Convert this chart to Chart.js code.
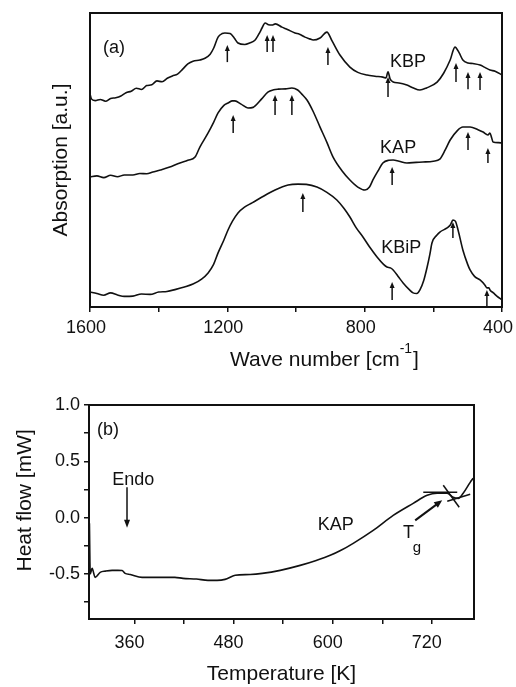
<!DOCTYPE html>
<html>
<head>
  <title>IR spectra and DSC of KBP / KAP / KBiP</title>
  <script src="https://cdn.jsdelivr.net/npm/chart.js"></script>
  <style>
    body {
      margin: 0;
      background: white;
      width: 516px;
      height: 687px;
      overflow: hidden;
      position: relative;
    }
    canvas {
      position: absolute;
      left: 0;
    }
    #irChart { top: 0; }
    #dscChart { top: 375px; }
  </style>
</head>
<body>
  <canvas id="irChart" width="516" height="375"></canvas>
  <canvas id="dscChart" width="516" height="312"></canvas>

  <script>
    const FONT = 'Arial, "Liberation Sans", Helvetica, sans-serif';
    const INK = '#111';

    // ---- (a) IR absorption spectra ----
    const wnTicks = [1600, 1400, 1200, 1000, 800, 600, 400];
    const wnLabels = [1600, 1200, 800, 400];

    const wnKBP = [1600, 1596, 1585, 1570, 1555, 1540, 1525, 1510, 1495, 1480, 1465, 1450, 1435, 1420, 1405, 1390, 1375, 1360, 1345, 1330, 1315, 1300, 1280, 1265, 1250, 1240, 1227, 1215, 1207, 1192, 1180, 1169, 1149, 1135, 1119, 1105, 1099, 1090, 1080, 1070, 1060, 1041, 1025, 1003, 990, 974, 960, 950, 930, 910, 895, 872, 843, 820, 793, 770, 747, 738, 732, 726, 717, 700, 677, 660, 639, 620, 589, 570, 551, 537, 525, 514, 499, 485, 464, 450, 435, 420, 400];
    const absKBP = [72.5, 70.8, 70.2, 70.6, 70.0, 70.9, 71.2, 71.8, 72.9, 73.4, 74.4, 74.0, 75.3, 75.6, 76.9, 76.6, 77.8, 78.6, 79.2, 80.9, 82.7, 83.6, 84.0, 84.6, 86.0, 88.0, 91.8, 93.0, 93.2, 93.0, 91.5, 89.8, 89.3, 89.8, 90.8, 93.5, 94.9, 96.6, 96.0, 95.9, 96.3, 95.2, 94.4, 93.2, 92.8, 91.8, 91.2, 90.8, 91.5, 93.5, 90.5, 85.7, 81.6, 79.8, 78.9, 78.5, 78.2, 77.9, 80.0, 77.6, 76.5, 76.2, 75.5, 74.6, 73.8, 74.5, 76.5, 79.5, 84.0, 88.4, 86.5, 84.0, 83.0, 82.8, 82.3, 81.5, 80.6, 80.2, 78.9];

    const wnKAP = [1600, 1580, 1560, 1540, 1520, 1500, 1475, 1455, 1435, 1417, 1395, 1370, 1338, 1315, 1294, 1280, 1256, 1240, 1227, 1210, 1198, 1185, 1178, 1160, 1140, 1125, 1119, 1100, 1082, 1065, 1052, 1030, 1012, 995, 983, 968, 950, 930, 910, 892, 865, 843, 820, 799, 786, 776, 760, 747, 730, 717, 700, 677, 650, 630, 600, 581, 565, 551, 530, 514, 493, 470, 455, 441, 435, 430, 426, 410, 400];
    const absKAP = [44.2, 44.6, 44.0, 44.8, 44.3, 44.9, 44.9, 45.4, 45.3, 45.9, 46.6, 47.5, 49.0, 49.9, 51.0, 54.4, 59.2, 62.8, 66.0, 68.6, 69.4, 70.1, 70.1, 69.0, 67.7, 67.9, 68.4, 70.8, 73.1, 73.9, 74.1, 74.2, 74.5, 73.8, 72.4, 70.4, 66.5, 61.2, 56.0, 51.0, 46.2, 43.2, 40.8, 39.8, 40.8, 43.2, 46.5, 49.0, 49.9, 50.0, 49.6, 49.0, 49.2, 49.3, 49.6, 50.3, 53.5, 56.8, 60.0, 61.2, 61.2, 60.3, 59.5, 58.5, 59.2, 57.5, 56.1, 55.9, 55.8];

    const wnKBiP = [1600, 1580, 1560, 1540, 1520, 1500, 1475, 1450, 1425, 1400, 1376, 1350, 1325, 1300, 1275, 1256, 1240, 1227, 1210, 1198, 1185, 1169, 1150, 1128, 1099, 1061, 1023, 994, 970, 939, 910, 881, 860, 843, 825, 805, 785, 764, 745, 735, 725, 717, 700, 688, 670, 659, 648, 639, 628, 618, 610, 604, 590, 581, 560, 550, 543, 536, 528, 514, 500, 493, 480, 464, 450, 444, 438, 435, 425, 415, 400];
    const absKBiP = [5.1, 4.6, 4.0, 4.8, 4.1, 3.6, 3.7, 4.4, 4.3, 5.1, 5.3, 6.0, 6.8, 7.8, 9.5, 11.6, 14.5, 18.4, 22.8, 26.2, 29.2, 32.0, 34.0, 35.4, 37.4, 39.8, 41.5, 41.8, 41.7, 40.8, 39.0, 36.4, 33.5, 30.6, 27.0, 23.8, 20.3, 17.0, 14.5, 13.6, 13.3, 12.6, 10.0, 8.2, 5.9, 4.8, 4.6, 5.8, 9.0, 13.6, 18.0, 21.8, 24.4, 25.5, 26.9, 28.0, 29.6, 29.2, 26.2, 19.4, 14.5, 12.6, 10.4, 9.2, 7.5, 6.5, 6.5, 5.8, 4.8, 3.7, 2.4];

    // band markers (short upward arrows): position, arrow tip, arrow base
    const peakWn = [1200, 1084, 1067, 907, 732, 534, 499, 464, 1183, 1061, 1012, 720, 499, 441, 980, 720, 543, 444];
    const peakTip = [89.1, 92.5, 92.5, 88.4, 78.2, 83.0, 79.9, 79.9, 65.3, 72.1, 72.1, 47.6, 59.5, 54.1, 38.8, 8.5, 28.9, 5.8];
    const peakBase = [83.3, 86.7, 86.7, 82.3, 71.4, 76.5, 74.1, 73.8, 59.2, 65.3, 65.3, 41.5, 53.4, 49.0, 32.3, 2.4, 23.5, 0.3];

    const sampleNames = ['KBP', 'KAP', 'KBiP'];
    const nameWn = [726, 755, 752];
    const nameAbs = [83.3, 54.1, 20.1];

    // ---- (b) DSC trace of KAP ----
    const tempTicks = [360, 420, 480, 540, 600, 660, 720];
    const tempLabels = [360, 480, 600, 720];
    const hfTicks = [-0.75, -0.5, -0.25, 0, 0.25, 0.5, 0.75, 1.0];
    const hfLabels = [-0.5, 0, 0.5, 1.0];

    const tempKAP = [305.5, 306.5, 308.8, 312.4, 318.5, 325, 333, 340, 345, 348.7, 355, 369.3, 390, 409, 418.8, 435, 449, 460, 469.7, 481.9, 500, 514.6, 536.4, 560.6, 580, 597, 610, 624.8, 649, 673.2, 697.4, 714.3, 726.4, 738.5, 745.8, 751.9, 757.9, 766.4, 770];
    const hfKAP = [-0.05, -0.50, -0.45, -0.53, -0.486, -0.475, -0.468, -0.468, -0.47, -0.495, -0.505, -0.53, -0.53, -0.53, -0.539, -0.545, -0.557, -0.557, -0.548, -0.512, -0.505, -0.495, -0.468, -0.424, -0.38, -0.335, -0.29, -0.228, -0.113, 0.02, 0.127, 0.198, 0.216, 0.216, 0.18, 0.171, 0.216, 0.313, 0.35];

    // tangent construction lines used for Tg
    const tangentT = [[709.6, 750.7], [733.8, 753.1], [738.6, 766.4]];
    const tangentHF = [[0.225, 0.225], [0.287, 0.092], [0.145, 0.207]];

    const endoArrow = { t: 351, from: 0.27, to: -0.09 };
    const tgArrow = { t0: 699.8, hf0: -0.024, t1: 732.5, hf1: 0.154 };

    const pairs = (xs, ys) => xs.map((x, i) => ({ x: x, y: ys[i] }));

    function arrow(ctx, x0, y0, x1, y1, head, half) {
      const ang = Math.atan2(y1 - y0, x1 - x0);
      const c = Math.cos(ang), s = Math.sin(ang);
      ctx.beginPath();
      ctx.moveTo(x0, y0);
      ctx.lineTo(x1 - c * head * 0.7, y1 - s * head * 0.7);
      ctx.stroke();
      ctx.beginPath();
      ctx.moveTo(x1, y1);
      ctx.lineTo(x1 - c * head + s * half, y1 - s * head - c * half);
      ctx.lineTo(x1 - c * head - s * half, y1 - s * head + c * half);
      ctx.closePath();
      ctx.fill();
    }

    function curve(label, data) {
      return {
        label: label,
        data: data,
        showLine: true,
        borderColor: INK,
        borderWidth: 1.6,
        pointRadius: 0,
        cubicInterpolationMode: 'monotone',
        fill: false
      };
    }

    const irMarks = {
      id: 'irMarks',
      afterDatasetsDraw(chart) {
        const { ctx, chartArea: a, scales: { x, y } } = chart;
        ctx.save();
        ctx.strokeStyle = INK;
        ctx.fillStyle = INK;
        ctx.lineWidth = 2;
        ctx.strokeRect(a.left, a.top, a.right - a.left, a.bottom - a.top);

        ctx.lineWidth = 1.5;
        peakWn.forEach((w, i) => {
          const px = x.getPixelForValue(w);
          arrow(ctx, px, y.getPixelForValue(peakBase[i]), px, y.getPixelForValue(peakTip[i]), 6, 2.5);
        });

        ctx.font = '18px ' + FONT;
        ctx.textAlign = 'left';
        ctx.textBaseline = 'middle';
        sampleNames.forEach((n, i) => {
          ctx.fillText(n, x.getPixelForValue(nameWn[i]), y.getPixelForValue(nameAbs[i]));
        });
        ctx.fillText('(a)', x.getPixelForValue(1562), y.getPixelForValue(88.1));

        // x title with superscript
        const main = 'Wave number [cm', sup = '-1', close = ']';
        ctx.font = '21px ' + FONT;
        const w1 = ctx.measureText(main).width, w3 = ctx.measureText(close).width;
        ctx.font = '14px ' + FONT;
        const w2 = ctx.measureText(sup).width;
        let tx = (a.left + a.right) / 2 + 28 - (w1 + w2 + w3) / 2;
        const ty = a.bottom + 53;
        ctx.font = '21px ' + FONT;
        ctx.fillText(main, tx, ty);
        ctx.font = '14px ' + FONT;
        ctx.fillText(sup, tx + w1, ty - 11);
        ctx.font = '21px ' + FONT;
        ctx.fillText(close, tx + w1 + w2 + 1, ty);
        ctx.restore();
      }
    };

    const dscMarks = {
      id: 'dscMarks',
      afterDatasetsDraw(chart) {
        const { ctx, chartArea: a, scales: { x, y } } = chart;
        ctx.save();
        ctx.strokeStyle = INK;
        ctx.fillStyle = INK;
        ctx.lineWidth = 2;
        ctx.strokeRect(a.left, a.top, a.right - a.left, a.bottom - a.top);

        ctx.font = '18px ' + FONT;
        ctx.textAlign = 'left';
        ctx.textBaseline = 'middle';
        ctx.fillText('(b)', x.getPixelForValue(314.8), y.getPixelForValue(0.775));
        ctx.fillText('Endo', x.getPixelForValue(333), y.getPixelForValue(0.33));
        ctx.fillText('KAP', x.getPixelForValue(582), y.getPixelForValue(-0.07));
        ctx.fillText('T', x.getPixelForValue(685), y.getPixelForValue(-0.14));
        ctx.font = '15px ' + FONT;
        ctx.fillText('g', x.getPixelForValue(697), y.getPixelForValue(-0.27));

        ctx.lineWidth = 1.5;
        const ex = x.getPixelForValue(endoArrow.t);
        arrow(ctx, ex, y.getPixelForValue(endoArrow.from), ex, y.getPixelForValue(endoArrow.to), 8, 3);
        ctx.lineWidth = 2;
        arrow(ctx, x.getPixelForValue(tgArrow.t0), y.getPixelForValue(tgArrow.hf0),
              x.getPixelForValue(tgArrow.t1), y.getPixelForValue(tgArrow.hf1), 8, 3.5);
        ctx.restore();
      }
    };

    new Chart(document.getElementById('irChart'), {
      type: 'scatter',
      data: {
        datasets: [
          curve('KBP', pairs(wnKBP, absKBP)),
          curve('KAP', pairs(wnKAP, absKAP)),
          curve('KBiP', pairs(wnKBiP, absKBiP))
        ]
      },
      options: {
        responsive: false,
        animation: false,
        layout: { padding: { top: 13, right: 14, left: 0, bottom: 0 } },
        plugins: { legend: { display: false }, tooltip: { enabled: false } },
        scales: {
          x: {
            type: 'linear',
            reverse: true,
            min: 400,
            max: 1600,
            afterBuildTicks: s => { s.ticks = wnTicks.map(v => ({ value: v })); },
            afterFit: s => { s.height = 68; s.paddingLeft = 0; s.paddingRight = 0; },
            ticks: {
              callback: v => wnLabels.includes(v) ? String(v) : '',
              color: INK,
              font: { family: FONT, size: 18 },
              padding: 5,
              maxRotation: 0,
              autoSkip: false,
              labelOffset: -4
            },
            grid: { drawOnChartArea: false, tickLength: 5, color: INK, lineWidth: 1.5 },
            border: { display: false }
          },
          y: {
            min: 0,
            max: 100,
            ticks: { display: false },
            grid: { display: false },
            border: { display: false },
            afterFit: s => { s.width = 90; },
            title: {
              display: true,
              text: 'Absorption [a.u.]',
              color: INK,
              font: { family: FONT, size: 21 },
              padding: { top: 49, bottom: 0 }
            }
          }
        }
      },
      plugins: [irMarks]
    });

    const tangentSets = tangentT.map((ts, i) => ({
      label: 'tangent ' + (i + 1),
      data: pairs(ts, tangentHF[i]),
      showLine: true,
      borderColor: INK,
      borderWidth: 1.5,
      pointRadius: 0
    }));

    new Chart(document.getElementById('dscChart'), {
      type: 'scatter',
      data: {
        datasets: [curve('KAP', pairs(tempKAP, hfKAP))].concat(tangentSets)
      },
      options: {
        responsive: false,
        animation: false,
        layout: { padding: { top: 30, right: 42, left: 0, bottom: 0 } },
        plugins: { legend: { display: false }, tooltip: { enabled: false } },
        scales: {
          x: {
            type: 'linear',
            min: 305,
            max: 771,
            afterBuildTicks: s => { s.ticks = tempTicks.map(v => ({ value: v })); },
            afterFit: s => { s.height = 68; s.paddingLeft = 0; s.paddingRight = 0; },
            ticks: {
              callback: v => tempLabels.includes(v) ? String(v) : '',
              color: INK,
              font: { family: FONT, size: 18 },
              padding: 8,
              maxRotation: 0,
              autoSkip: false,
              labelOffset: -5
            },
            grid: { drawOnChartArea: false, tickLength: 5, color: INK, lineWidth: 1.5 },
            border: { display: false },
            title: {
              display: true,
              text: 'Temperature [K]',
              color: INK,
              font: { family: FONT, size: 21 },
              padding: { top: 0, bottom: 0 }
            }
          },
          y: {
            min: -0.9,
            max: 1.0,
            afterBuildTicks: s => { s.ticks = hfTicks.map(v => ({ value: v })); },
            afterFit: s => { s.width = 89; s.paddingTop = 0; s.paddingBottom = 0; },
            ticks: {
              callback: v => hfLabels.includes(v) ? v.toFixed(1) : '',
              color: INK,
              font: { family: FONT, size: 18 },
              padding: 4,
              autoSkip: false
            },
            grid: { drawOnChartArea: false, tickLength: 5, color: INK, lineWidth: 1.5 },
            border: { display: false },
            title: {
              display: true,
              text: '\u00a0\u00a0\u00a0\u00a0Heat flow [mW]',
              color: INK,
              font: { family: FONT, size: 21 },
              padding: { top: 13, bottom: 0 }
            }
          }
        }
      },
      plugins: [dscMarks]
    });
  </script>
</body>
</html>
